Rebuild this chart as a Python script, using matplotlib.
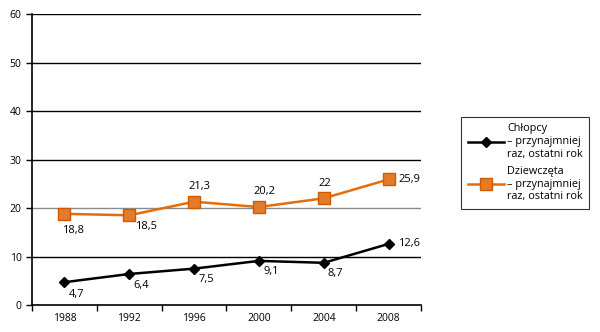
import matplotlib.pyplot as plt
import numpy as np

plt.rcParams['font.family'] = ['Open Sans', 'DejaVu Sans']

# Dane
lata = ["1988", "1992", "1996", "2000", "2004", "2008"]
chlopcy = [4.7, 6.4, 7.5, 9.1, 8.7, 12.6]
dziewczeta = [18.8, 18.5, 21.3, 20.2, 22, 25.9]
etykiety_ch = ["4,7", "6,4", "7,5", "9,1", "8,7", "12,6"]
etykiety_dz = ["18,8", "18,5", "21,3", "20,2", "22", "25,9"]

fig = plt.figure(figsize=(6, 3.32), dpi=100)
ax = fig.add_axes([0.0533, 0.0813, 0.6484, 0.8765])

x = np.arange(len(lata))

# linie siatki (20 w kolorze szarym)
for y in [10, 20, 30, 40, 50, 60]:
    ax.axhline(y, color="#8c8c8c" if y == 20 else "black", lw=1.0, zorder=1)

ax.plot(x, chlopcy, color="black", lw=1.8, marker="D", markersize=5.5,
        markerfacecolor="black", markeredgecolor="black",
        label="Chłopcy\n– przynajmniej\nraz, ostatni rok", zorder=3)
ax.plot(x, dziewczeta, color="#E46C0A", lw=1.8, marker="s", markersize=8.5,
        markerfacecolor="#E47B2A", markeredgecolor="#D05A00",
        label="Dziewczęta\n– przynajmniej\nraz, ostatni rok", zorder=3)

# etykiety danych
off_ch = [(3, -9), (3, -8), (3, -8), (3, -8), (3, -8), (7, 0)]
for i, (v, t) in enumerate(zip(chlopcy, etykiety_ch)):
    dx, dy = off_ch[i]
    ax.annotate(t, (x[i], v), xytext=(dx, dy), textcoords="offset points",
                ha="left", va="center", fontsize=8)
off_dz = [(-2, -12), (4, -8), (-4, 11), (-4, 11), (-4, 11), (7, 0)]
for i, (v, t) in enumerate(zip(dziewczeta, etykiety_dz)):
    dx, dy = off_dz[i]
    ax.annotate(t, (x[i], v), xytext=(dx, dy), textcoords="offset points",
                ha="left", va="center", fontsize=8)

ax.set_xlim(-0.5, len(lata) - 0.5)
ax.set_ylim(0, 60)
ax.set_yticks([0, 10, 20, 30, 40, 50, 60])
ax.set_xticks(x)
ax.set_xticklabels(lata)
ax.set_xticks(np.arange(-0.5, len(lata) + 0.5, 1), minor=True)
ax.tick_params(axis="x", which="major", length=0, labelsize=7.5, pad=6)
ax.tick_params(axis="x", which="minor", length=4, width=1, direction="out")
ax.tick_params(axis="y", length=4, width=1, direction="out", labelsize=7.5)

for s in ["top", "right"]:
    ax.spines[s].set_visible(False)
ax.spines["left"].set_linewidth(1.2)
ax.spines["bottom"].set_linewidth(1.2)

leg = ax.legend(loc="upper left", bbox_to_anchor=(1.09, 0.665), fontsize=7.8,
                frameon=True, fancybox=False, edgecolor="black",
                handlelength=3.3, handletextpad=0.3, labelspacing=0.6,
                borderpad=0.6)
leg.get_frame().set_linewidth(0.8)

fig.savefig("out.png", dpi=100)
